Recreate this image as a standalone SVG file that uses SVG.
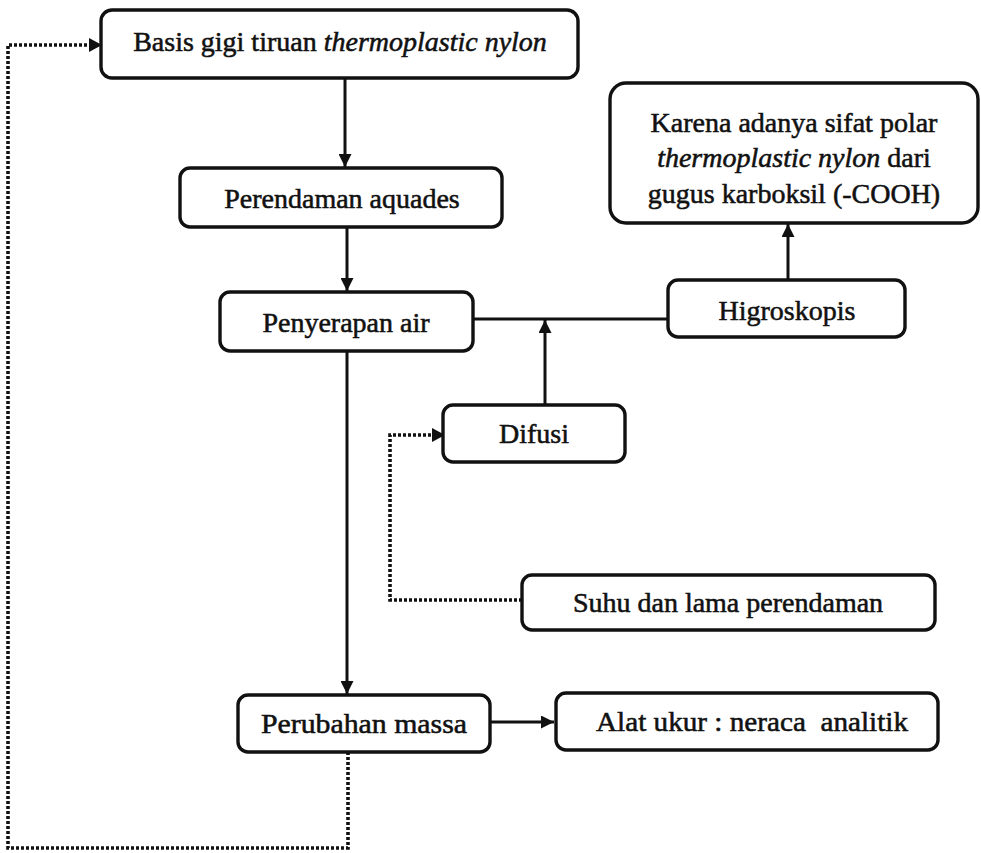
<svg xmlns="http://www.w3.org/2000/svg" width="981" height="853" viewBox="0 0 981 853">
<defs>
<style>
.box{fill:#fff;stroke:#111;stroke-width:3.4}
.t{font-family:"Liberation Serif","Times New Roman",serif;font-size:28px;fill:#111;stroke:#111;stroke-width:0.55;text-anchor:middle}
.i{font-style:italic}
.ln{fill:none;stroke:#111;stroke-width:3}
.dot{fill:none;stroke:#111;stroke-width:3.6;stroke-dasharray:3 2}
</style>
<marker id="ah" viewBox="0 0 10 10" refX="10" refY="5" markerWidth="14" markerHeight="13" markerUnits="userSpaceOnUse" orient="auto">
<path d="M0,0 L10,5 L0,10 z" fill="#111"/>
</marker>
</defs>
<rect width="981" height="853" fill="#fff"/>
<g id="connectors">
<line class="ln" x1="345" y1="78" x2="345" y2="167" marker-end="url(#ah)"/>
<line class="ln" x1="347" y1="227" x2="347" y2="291" marker-end="url(#ah)"/>
<line class="ln" x1="347" y1="352" x2="347" y2="694" marker-end="url(#ah)"/>
<line class="ln" x1="490" y1="722" x2="554" y2="722" marker-end="url(#ah)"/>
<line class="ln" x1="473" y1="319" x2="668" y2="319"/>
<line class="ln" x1="545" y1="405" x2="545" y2="320" marker-end="url(#ah)"/>
<line class="ln" x1="788" y1="280" x2="788" y2="224" marker-end="url(#ah)"/>
<polyline class="dot" points="348,752 348,848 8,848 8,45 94,45"/>
<path d="M89,38 L102,45 L89,52 z" fill="#111"/>
<polyline class="dot" points="522,600 390,600 390,435 438,435"/>
<path d="M432,428 L445,435 L432,442 z" fill="#111"/>
</g>
<g id="n-basis">
<rect class="box" x="101" y="10" width="477" height="68" rx="11"/>
<text class="t" x="340" y="51">Basis gigi tiruan <tspan class="i">thermoplastic nylon</tspan></text>
</g>
<g id="n-perendaman">
<rect class="box" x="180" y="168" width="322" height="59" rx="10"/>
<text class="t" x="342" y="208">Perendaman aquades</text>
</g>
<g id="n-penyerapan">
<rect class="box" x="220" y="292" width="253" height="59" rx="10"/>
<text class="t" x="346" y="332">Penyerapan air</text>
</g>
<g id="n-karena">
<rect class="box" x="610" y="83" width="368" height="140" rx="16"/>
<text class="t" x="794" y="132">Karena adanya sifat polar</text>
<text class="t" x="794" y="167"><tspan class="i">thermoplastic nylon</tspan> dari</text>
<text class="t" x="794" y="203">gugus karboksil (-COOH)</text>
</g>
<g id="n-higroskopis">
<rect class="box" x="668" y="280" width="237" height="57" rx="10"/>
<text class="t" x="787" y="320">Higroskopis</text>
</g>
<g id="n-difusi">
<rect class="box" x="443" y="405" width="182" height="57" rx="10"/>
<text class="t" x="534" y="443">Difusi</text>
</g>
<g id="n-suhu">
<rect class="box" x="522" y="575" width="413" height="55" rx="10"/>
<text class="t" x="728" y="612">Suhu dan lama perendaman</text>
</g>
<g id="n-perubahan">
<rect class="box" x="238" y="695" width="252" height="57" rx="10"/>
<text class="t" x="364" y="733" textLength="206" lengthAdjust="spacingAndGlyphs">Perubahan massa</text>
</g>
<g id="n-alat">
<rect class="box" x="556" y="693" width="382" height="57" rx="10"/>
<text class="t" x="752" y="731" textLength="312" lengthAdjust="spacingAndGlyphs">Alat ukur : neraca&#160; analitik</text>
</g>
</svg>
